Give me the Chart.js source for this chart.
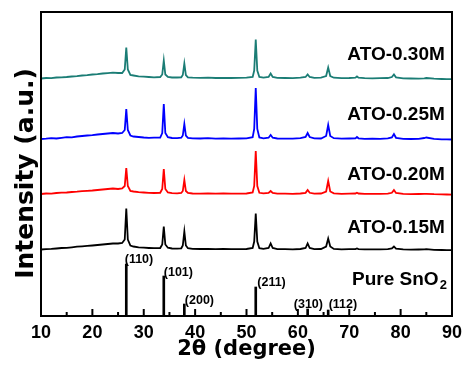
<!DOCTYPE html>
<html>
<head>
<meta charset="utf-8">
<title>XRD patterns of ATO films</title>
<script src="https://cdn.jsdelivr.net/npm/chart.js"></script>
<style>
  html, body { margin: 0; padding: 0; background: #fff; }
  canvas { display: block; }
</style>
</head>
<body>
<canvas id="xrdChart" width="469" height="377"></canvas>
<script>
// 2-theta grid shared by the four measured patterns (degrees)
const twoTheta = [
  10, 11, 12, 13, 14, 15, 16, 17, 18, 19,
  20, 21, 22, 23, 24, 25, 25.8, 26.3, 26.6, 26.9,
  27.4, 28, 29, 30, 31, 32, 33.2, 33.6, 33.9, 34.2,
  34.7, 35.5, 36.5, 37.3, 37.6, 37.9, 38.2, 38.6, 39.5, 41,
  42.5, 44, 45.5, 47, 48.5, 50, 51.2, 51.5, 51.8, 52.1,
  52.5, 53.3, 54.3, 54.7, 55.1, 56, 57.5, 59, 60.5, 61.5,
  61.9, 62.3, 63.2, 64.5, 65.5, 65.9, 66.3, 67, 68.5, 70,
  71.2, 71.5, 71.8, 73, 74.5, 76, 77.5, 78.3, 78.7, 79.1,
  80.5, 82, 83.5, 84.6, 85, 86.5, 88, 89, 90
];

// intensities (a.u.), one row per line of twoTheta
const ato030 = [
  0, 0.5, 0.3, 1, 1.2, 1.5, 2, 2.4, 3, 3.3,
  4, 4.3, 5, 5.4, 5.8, 5.5, 5.5, 9, 31, 9,
  3.5, 3, 2.2, 1.8, 1.5, 1.2, 1.5, 4, 18, 4,
  1.5, 1, 1, 1.2, 3.5, 15, 3.5, 1.2, 0.8, 0.6,
  0.8, 0.5, 0.7, 0.5, 0.6, 0.8, 1.5, 8, 39, 8,
  1.5, 0.8, 1.5, 5, 1.5, 0.6, 0.5, 0.4, 0.8, 1.5,
  4, 1.5, 0.6, 0.8, 2.5, 11, 2.5, 0.8, 0.4, 0.5,
  0.8, 2, 0.8, 0.3, 0.2, 0.3, 0.5, 1.5, 4, 1.2,
  0.2, 0, -0.2, 0.2, 0.5, -0.2, -0.5, -0.6, -0.6
];
const ato025 = [
  0, 0.3, 0.8, 0.5, 1.2, 1.8, 1.6, 2.5, 3, 3.5,
  3.8, 4.5, 5, 5.5, 6, 5.5, 6, 9, 30, 9,
  3.5, 2.5, 2, 1.5, 1.2, 1.3, 1.5, 6, 35, 6,
  1.8, 1, 0.8, 1.3, 3.5, 15, 3.5, 1.2, 0.6, 0.5,
  0.8, 0.4, 0.6, 0.3, 0.5, 0.7, 1.8, 10, 51, 10,
  1.5, 0.7, 1.3, 4, 1.3, 0.5, 0.3, 0.4, 0.8, 2,
  6, 2, 0.6, 0.5, 3, 14, 3, 0.8, 0.3, 0.5,
  0.6, 2, 0.7, 0.2, 0.3, 0.2, 0.6, 1.5, 5, 1.2,
  0.2, 0, 0.2, 1, 1.5, 0.2, -0.3, -0.4, -0.5
];
const ato020 = [
  0, 0.5, 0.4, 1, 1.3, 1.5, 2, 2.3, 2.8, 3.2,
  3.5, 4, 4.5, 5, 5.5, 5, 5.5, 8, 26, 8,
  3, 2.5, 1.8, 1.5, 1.2, 1, 1.2, 5, 25, 5,
  1.5, 0.8, 0.7, 1, 3, 14, 3, 1, 0.5, 0.4,
  0.6, 0.3, 0.5, 0.3, 0.4, 0.5, 1.5, 8, 43, 8,
  1.2, 0.6, 1, 3, 1, 0.4, 0.3, 0.2, 0.5, 1.2,
  4, 1.2, 0.4, 0.5, 2.5, 13, 2.5, 0.6, 0.2, 0.3,
  0.5, 1.2, 0.5, 0.2, 0.1, 0.2, 0.4, 1.2, 4, 1,
  0.1, -0.1, 0, 0.1, 0.2, -0.2, -0.4, -0.5, -0.6
];
const ato015 = [
  0, 0.4, 0.6, 1, 1.5, 1.7, 2.2, 2.8, 3.2, 3.6,
  4, 4.5, 5, 5.5, 6, 6, 6.5, 10, 41, 10,
  4, 3, 2.2, 1.8, 1.5, 1.3, 1.5, 5, 23, 5,
  1.8, 1, 0.8, 1.2, 4, 18, 4, 1.3, 0.7, 0.5,
  0.6, 0.3, 0.5, 0.3, 0.3, 0.5, 1.5, 8, 36, 8,
  1.3, 0.6, 1.5, 6, 1.5, 0.4, 0.3, 0.2, 0.5, 1.5,
  6, 1.5, 0.4, 0.5, 3, 11, 3, 0.6, 0.2, 0.4,
  0.4, 1, 0.4, 0.2, 0.1, 0.2, 0.4, 1, 3, 0.8,
  0.1, -0.1, 0, 0.1, 0.3, -0.3, -0.5, -0.6, -0.7
];

// vertical stacking offsets of the measured patterns
const stackOffsets = [237.5, 177, 122, 66.5];
const sampleNames = ['ATO-0.30M', 'ATO-0.25M', 'ATO-0.20M', 'ATO-0.15M'];
const sampleColors = ['#1b7d75', '#0000ff', '#ff0000', '#000000'];
const sampleLabelY = [256.5, 196.5, 136, 83];

// reference pattern of rutile SnO2
const refPositions = [26.6, 33.9, 37.9, 51.8, 61.9, 65.9];
const refIntensity = [52, 40, 12, 29, 7, 6];
const refHkl = ['(110)', '(101)', '(200)', '(211)', '(310)', '(112)'];
const hklLabelX = [26.3, 33.9, 38.0, 52.1, 59.2, 66.0];
const hklLabelY = [56, 43, 15, 33, 11, 11];

const xTicks = [10, 20, 30, 40, 50, 60, 70, 80, 90];
const xMinorTicks = [15, 25, 35, 45, 55, 65, 75, 85];

const series = [ato030, ato025, ato020, ato015];
const datasets = series.map((vals, k) => ({
  type: 'line',
  label: sampleNames[k],
  data: twoTheta.map((t, i) => ({ x: t, y: vals[i] + stackOffsets[k] })),
  borderColor: sampleColors[k],
  borderWidth: 1.8,
  pointRadius: 0,
  tension: 0
}));
datasets.push({
  type: 'bar',
  label: 'Pure SnO2',
  data: refPositions.map((p, i) => ({ x: p, y: refIntensity[i] })),
  backgroundColor: '#000',
  barThickness: 2
});

const arialBold = '"Liberation Sans", Arial, sans-serif';
Chart.defaults.font.family = arialBold;
Chart.defaults.font.size = 18;
Chart.defaults.font.weight = 'bold';
Chart.defaults.color = '#000';

const decorations = {
  id: 'decorations',
  afterDatasetsDraw(chart) {
    const { ctx, chartArea: a, scales: { x, y } } = chart;
    ctx.save();
    ctx.fillStyle = '#000';
    ctx.strokeStyle = '#000';

    // inward ticks on the bottom axis
    ctx.lineWidth = 2;
    xTicks.forEach(v => {
      const px = x.getPixelForValue(v);
      ctx.beginPath(); ctx.moveTo(px, a.bottom); ctx.lineTo(px, a.bottom - 7); ctx.stroke();
    });
    xMinorTicks.forEach(v => {
      const px = x.getPixelForValue(v);
      ctx.beginPath(); ctx.moveTo(px, a.bottom); ctx.lineTo(px, a.bottom - 4); ctx.stroke();
    });

    // frame
    ctx.lineWidth = 2;
    ctx.strokeRect(a.left, a.top, a.right - a.left, a.bottom - a.top);

    // sample names
    ctx.font = 'bold 19px ' + arialBold;
    ctx.textAlign = 'right';
    ctx.textBaseline = 'alphabetic';
    sampleNames.forEach((s, k) => {
      ctx.fillText(s, x.getPixelForValue(88.6), y.getPixelForValue(sampleLabelY[k]));
    });
    ctx.fillText('Pure SnO', x.getPixelForValue(87.4), y.getPixelForValue(31.5));
    ctx.font = 'bold 13px ' + arialBold;
    ctx.textAlign = 'left';
    ctx.fillText('2', x.getPixelForValue(87.4) + 1, y.getPixelForValue(31.5) + 4);

    // Miller indices
    ctx.font = 'bold 12.5px ' + arialBold;
    ctx.textAlign = 'left';
    ctx.textBaseline = 'middle';
    refHkl.forEach((h, i) => {
      ctx.fillText(h, x.getPixelForValue(hklLabelX[i]), y.getPixelForValue(hklLabelY[i]));
    });

    // axis titles
    ctx.font = 'bold 21px "DejaVu Sans", sans-serif';
    ctx.textAlign = 'center';
    ctx.textBaseline = 'alphabetic';
    ctx.fillText('2\u03b8 (degree)', (a.left + a.right) / 2, 355);

    ctx.translate(33, 173.5);
    ctx.rotate(-Math.PI / 2);
    ctx.font = 'bold 25px "DejaVu Sans", sans-serif';
    ctx.fillText('Intensity (a.u.)', 0, 0);
    ctx.restore();
  }
};

new Chart(document.getElementById('xrdChart'), {
  type: 'line',
  data: { datasets },
  options: {
    responsive: false,
    animation: false,
    devicePixelRatio: 1,
    layout: { padding: { left: 41, right: 17, top: 12, bottom: 0 } },
    plugins: { legend: { display: false }, tooltip: { enabled: false } },
    scales: {
      x: {
        type: 'linear',
        position: 'bottom',
        offset: false,
        min: 10,
        max: 90,
        grid: { display: false, drawTicks: false, offset: false },
        border: { display: false },
        ticks: {
          stepSize: 10,
          autoSkip: false,
          maxRotation: 0,
          padding: 6,
          color: '#000',
          font: { family: arialBold, weight: 'bold', size: 18 }
        },
        afterFit(scale) { scale.height = 61; }
      },
      y: {
        display: false,
        min: 0,
        max: 304
      }
    }
  },
  plugins: [decorations]
});
</script>
</body>
</html>
